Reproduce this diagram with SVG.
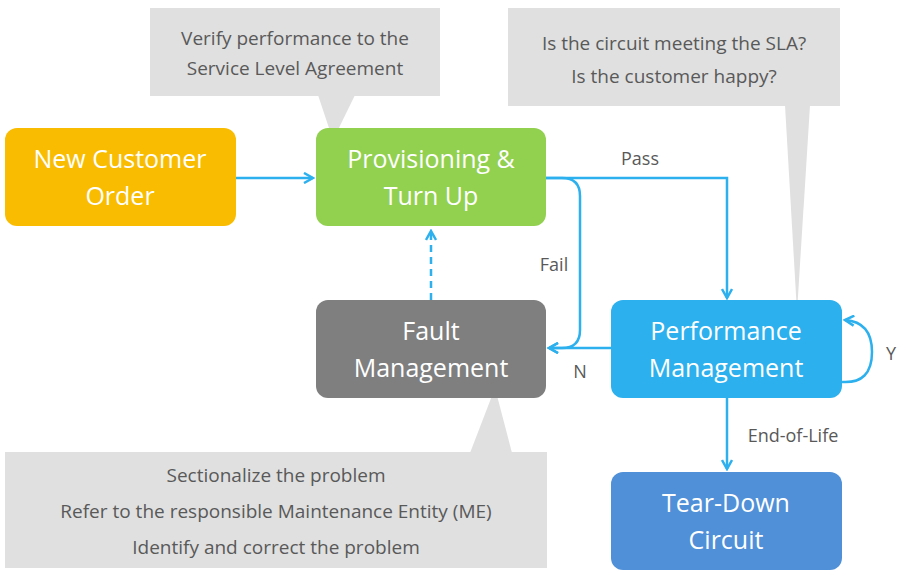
<svg xmlns="http://www.w3.org/2000/svg" width="900" height="576" viewBox="0 0 900 576">
<style>
.bt{font-family:"Open Sans","Liberation Sans",sans-serif;font-size:25px;fill:#fff;text-anchor:middle}
.ct{font-family:"Open Sans","Liberation Sans",sans-serif;font-size:19px;fill:#595959;text-anchor:middle}
.lb{font-family:"Open Sans","Liberation Sans",sans-serif;font-size:18px;fill:#595959;text-anchor:middle}
.cn{fill:none;stroke:#2DB0EE;stroke-width:2.5}
.co{fill:#E0E0E0}
</style>
<defs>
<marker id="a" viewBox="0 0 12 12" refX="10" refY="6" markerWidth="12" markerHeight="12" markerUnits="userSpaceOnUse" orient="auto">
<path d="M1 1 L10 6 L1 11" fill="none" stroke="#2DB0EE" stroke-width="2.5"/>
</marker>
</defs>
<g id="callout1"><rect class="co" x="150" y="8" width="290" height="88"/><path class="co" d="M318 95 L333 140 L355 95Z"/>
<text class="ct" x="295" y="45">Verify performance to the</text><text class="ct" x="295" y="75">Service Level Agreement</text></g>
<g id="callout2"><rect class="co" x="508" y="8" width="332" height="98"/><path class="co" d="M785 105 L797 312 L810 105Z"/>
<text class="ct" x="674" y="50">Is the circuit meeting the SLA?</text><text class="ct" x="674" y="83">Is the customer happy?</text></g>
<g id="callout3"><rect class="co" x="5" y="452" width="542" height="116"/><path class="co" d="M470 453 L495 388 L512 453Z"/>
<text class="ct" x="276" y="482">Sectionalize the problem</text><text class="ct" x="276" y="518">Refer to the responsible Maintenance Entity (ME)</text><text class="ct" x="276" y="554">Identify and correct the problem</text></g>
<g id="connectors">
<path class="cn" d="M236 178 H313" marker-end="url(#a)"/>
<path class="cn" d="M546 178 H727 V298" marker-end="url(#a)"/>
<path class="cn" d="M546 178 H562 Q580 178 580 196 V330 Q580 348 562 348 H549" marker-end="url(#a)"/>
<path class="cn" d="M611 348 H549" marker-end="url(#a)"/>
<path class="cn" d="M431 300 V231" stroke-dasharray="7,5" marker-end="url(#a)"/>
<path class="cn" d="M842 382 Q872 384 872 352 Q872 322 845 320" marker-end="url(#a)"/>
<path class="cn" d="M727 398 V469" marker-end="url(#a)"/>
<text class="lb" x="640" y="165">Pass</text>
<text class="lb" x="554" y="271">Fail</text>
<text class="lb" x="580" y="378">N</text>
<text class="lb" x="891" y="360">Y</text>
<text class="lb" x="793" y="442">End-of-Life</text>
</g>
<g id="new"><rect x="5" y="128" width="231" height="98" rx="12" fill="#F9BC00"/><text class="bt" x="120" y="168">New Customer</text><text class="bt" x="120" y="205">Order</text></g>
<g id="prov"><rect x="316" y="128" width="230" height="98" rx="12" fill="#92D050"/><text class="bt" x="431" y="168">Provisioning &amp;</text><text class="bt" x="431" y="205">Turn Up</text></g>
<g id="fault"><rect x="316" y="300" width="230" height="98" rx="12" fill="#7F7F7F"/><text class="bt" x="431" y="340">Fault</text><text class="bt" x="431" y="377">Management</text></g>
<g id="perf"><rect x="611" y="300" width="231" height="98" rx="12" fill="#2DB0EE"/><text class="bt" x="726" y="340">Performance</text><text class="bt" x="726" y="377">Management</text></g>
<g id="tear"><rect x="611" y="472" width="231" height="98" rx="12" fill="#5090D8"/><text class="bt" x="726" y="512">Tear-Down</text><text class="bt" x="726" y="549">Circuit</text></g>
</svg>
